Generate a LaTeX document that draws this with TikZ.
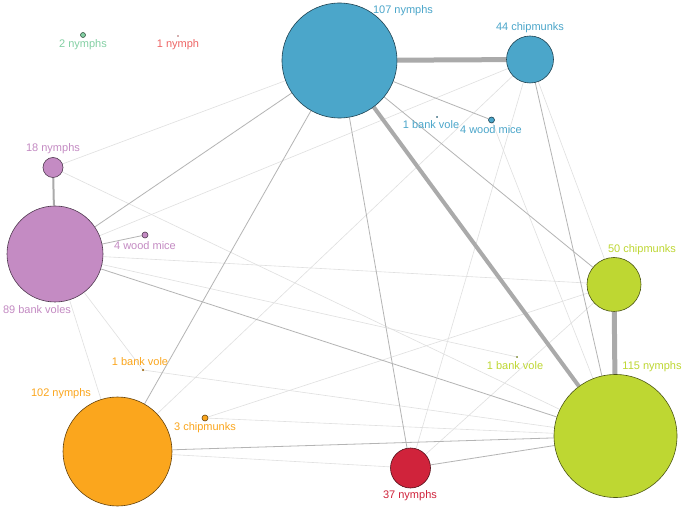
\documentclass[tikz,border=0pt]{standalone}
\usepackage{fontspec}
\setmainfont{Liberation Sans}
\pgfdeclarelayer{bg}
\pgfsetlayers{bg,main}
\definecolor{cblue}{HTML}{4BA6CA}
\definecolor{cpurple}{HTML}{C48BC3}
\definecolor{corange}{HTML}{FBA61D}
\definecolor{cred}{HTML}{D0233B}
\definecolor{cgreen}{HTML}{BED732}
\definecolor{cmint}{HTML}{84D0A4}
\definecolor{csalmon}{HTML}{EE6565}
\definecolor{eheavy}{HTML}{AAAAAA}
\definecolor{emed}{HTML}{B4B4B4}
\definecolor{elight}{HTML}{E0E0E0}
\tikzset{
  bub/.style={circle, inner sep=0pt, line width=0.6pt, fill=#1, draw=#1!40!black},
  lab/.style={inner sep=0pt, font=\fontsize{11}{13}\selectfont, text=#1},
  heavy/.style={draw=eheavy, line width=#1},
  med/.style={draw=emed, line width=0.8pt},
  light/.style={draw=elight, line width=0.6pt}
}
\begin{document}
\begin{tikzpicture}[x=1pt,y=-1pt]
\useasboundingbox (0,0) rectangle (685,510);
% nodes
\node[bub=cblue, minimum size=115pt] (A) at (339.5,60.5) {};
\node[bub=cblue, minimum size=47pt] (B) at (530,59.5) {};
\node[bub=cblue, minimum size=6pt] (C) at (491.5,120) {};
\node[bub=cblue, minimum size=1.5pt, line width=0.2pt] (Cb) at (437,117) {};
\node[bub=cpurple, minimum size=20pt] (D) at (53,167.5) {};
\node[bub=cpurple, minimum size=96pt] (E) at (55,254) {};
\node[bub=cpurple, minimum size=6pt] (Ew) at (145,235) {};
\node[bub=corange, minimum size=109pt] (F) at (117.5,451.5) {};
\node[bub=corange, minimum size=2pt, line width=0.3pt] (Fb) at (143,370) {};
\node[bub=corange, minimum size=6pt] (Fc) at (205,418) {};
\node[bub=cred, minimum size=40pt] (G) at (410.5,468) {};
\node[bub=cgreen, minimum size=123pt] (H) at (615.5,436) {};
\node[bub=cgreen, minimum size=54pt] (I) at (614,284.5) {};
\node[bub=cgreen, minimum size=1.5pt, line width=0.2pt] (Hb) at (517,357) {};
\node[bub=cmint, minimum size=5pt] (N2) at (83,35) {};
\node[bub=csalmon, minimum size=1.2pt, line width=0.2pt] (N1) at (178,36) {};
% edges
\begin{pgfonlayer}{bg}
\fill[white] (0,0) rectangle (685,510);
\draw[light] (A) -- (D);
\draw[light] (D) -- (H);
\draw[light] (E) -- (B);
\draw[light] (E) -- (I);
\draw[light] (E) -- (Hb);
\draw[light] (E) -- (F);
\draw[light] (E) -- (Fb);
\draw[light] (F) -- (B);
\draw[light] (F) -- (G);
\draw[light] (B) -- (G);
\draw[light] (B) -- (I);
\draw[light] (C) -- (H);
\draw[light] (G) -- (I);
\draw[light] (Fc) -- (H);
\draw[light] (Fc) -- (I);
\draw[light] (Fb) -- (H);
\draw[med] (A) -- (E);
\draw[med] (A) -- (F);
\draw[med] (A) -- (G);
\draw[med] (A) -- (I);
\draw[med] (A) -- (C);
\draw[med] (B) -- (H);
\draw[med] (F) -- (H);
\draw[med] (E) -- (H);
\draw[med] (G) -- (H);
\draw[med] (E) -- (Ew);
\draw[heavy=5pt] (A) -- (B);
\draw[heavy=4pt] (A) -- (H);
\draw[heavy=5pt] (I) -- (H);
\draw[heavy=2pt] (D) -- (E);
\end{pgfonlayer}
% labels
\node[lab=cblue] (lA) at (403,11) {107 nymphs};
\node[lab=cblue] (lB) at (530,28) {44 chipmunks};
\node[lab=cblue] (lCb) at (431,125) {1 bank vole};
\node[lab=cblue] (lC) at (491,130) {4 wood mice};
\node[lab=cmint] (lN2) at (83,45) {2 nymphs};
\node[lab=csalmon] (lN1) at (178,45) {1 nymph};
\node[lab=cpurple] (lD) at (53,149) {18 nymphs};
\node[lab=cpurple] (lEw) at (145,246) {4 wood mice};
\node[lab=cpurple] (lE) at (37,310) {89 bank voles};
\node[lab=corange] (lFb) at (140,362) {1 bank vole};
\node[lab=corange] (lF) at (61,394) {102 nymphs};
\node[lab=corange] (lFc) at (205,428) {3 chipmunks};
\node[lab=cred] (lG) at (410,496) {37 nymphs};
\node[lab=cgreen] (lH) at (652,367) {115 nymphs};
\node[lab=cgreen] (lHb) at (515,366) {1 bank vole};
\node[lab=cgreen] (lI) at (642,250) {50 chipmunks};
\end{tikzpicture}
\end{document}
